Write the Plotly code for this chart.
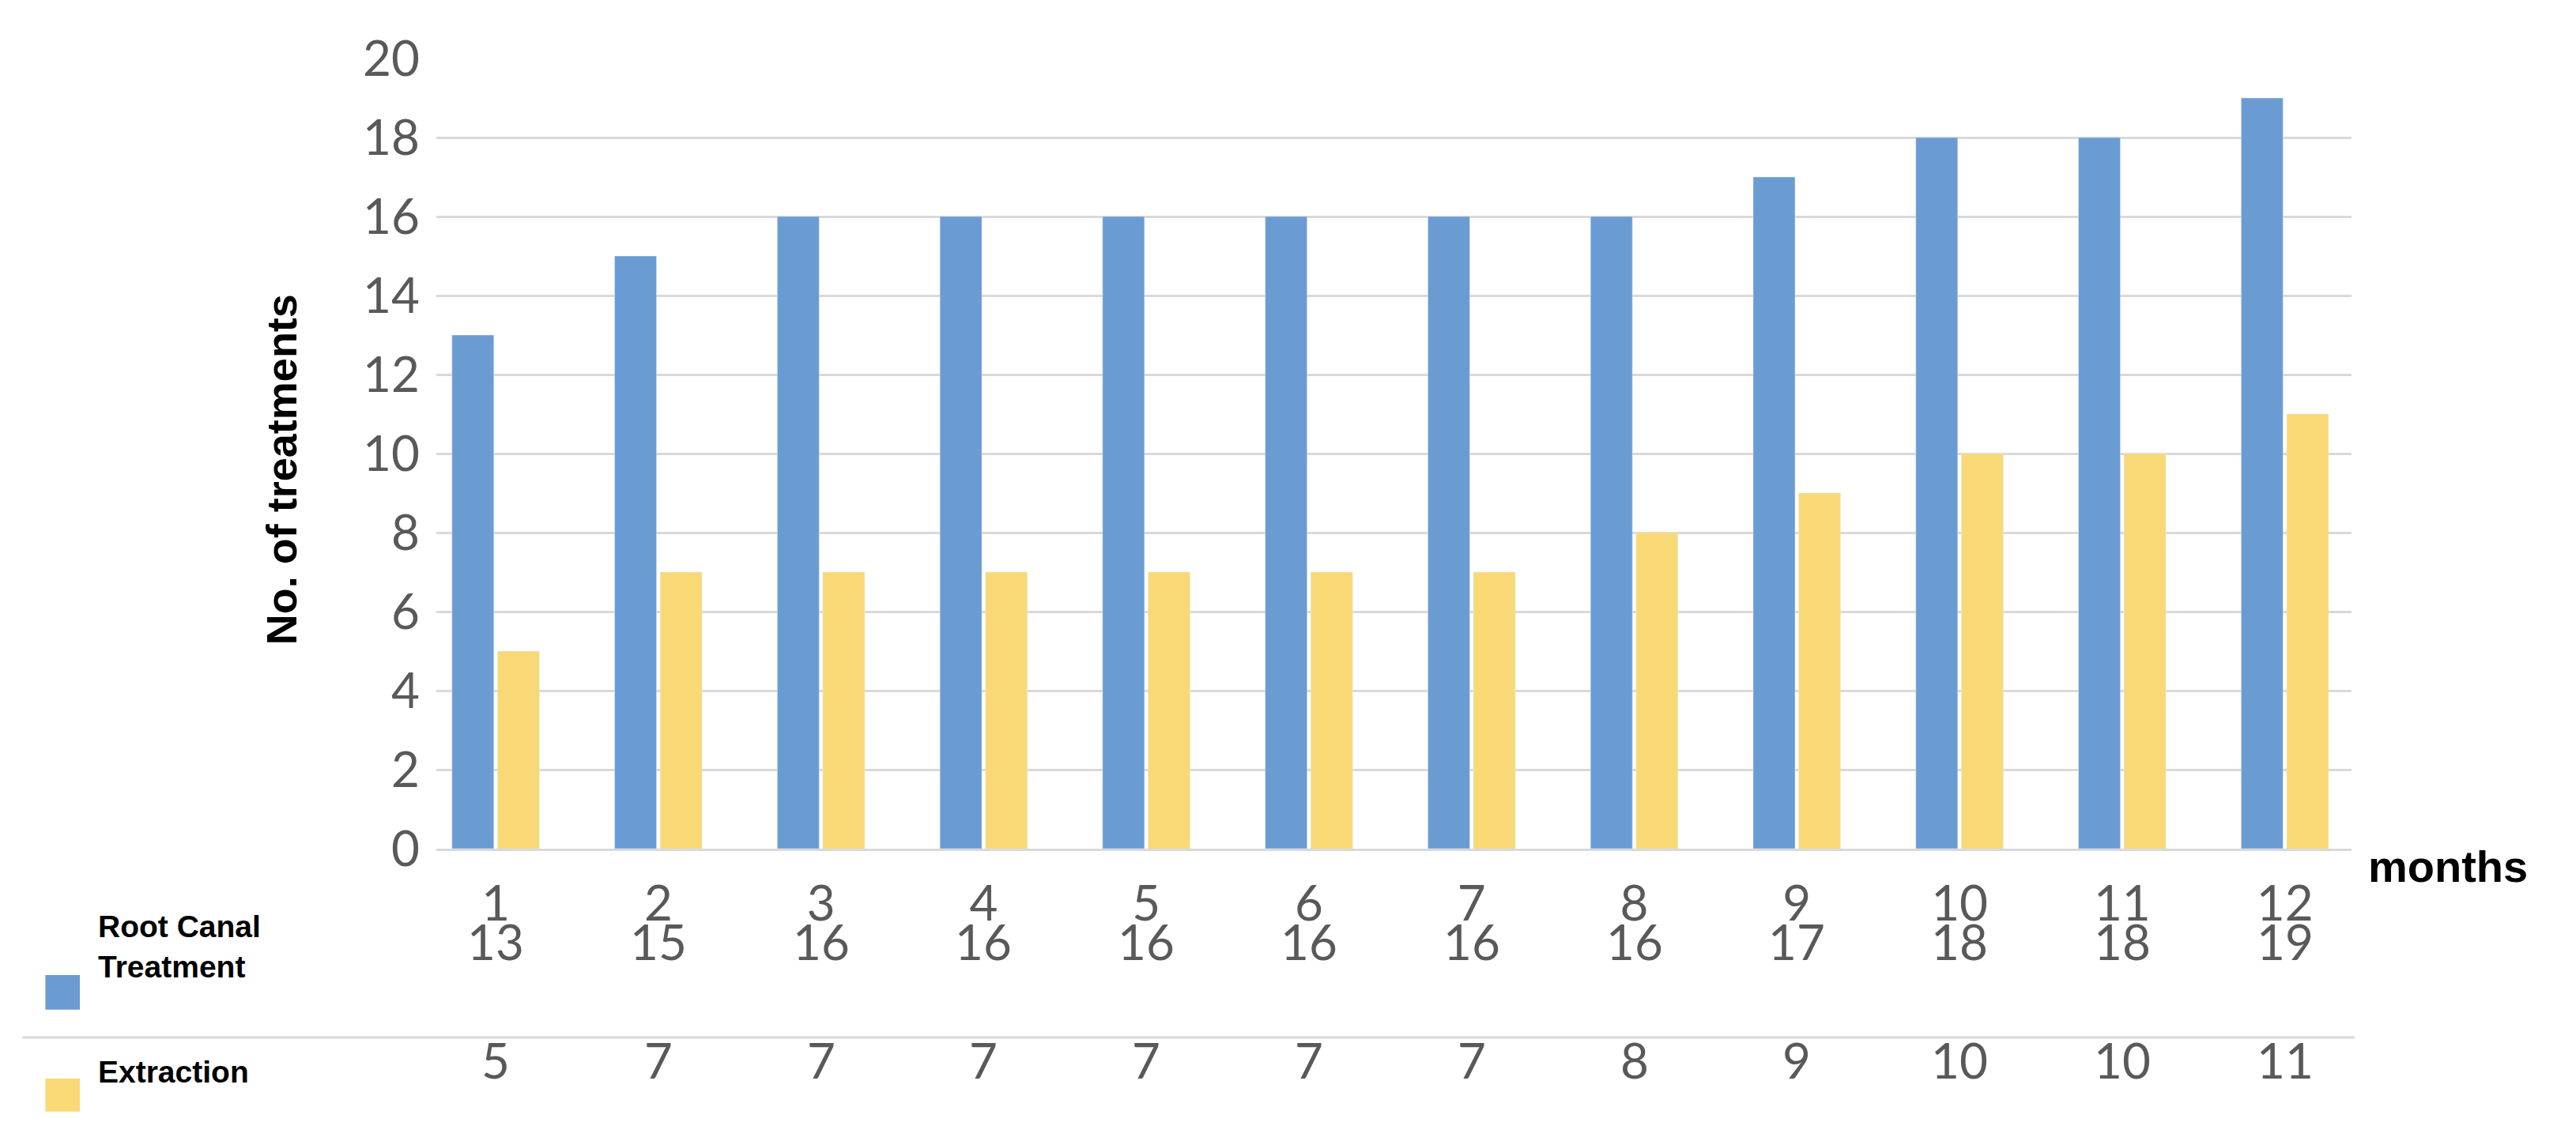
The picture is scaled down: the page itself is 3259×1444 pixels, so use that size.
import plotly.graph_objects as go

months = [1,2,3,4,5,6,7,8,9,10,11,12]
root_canal = [13,15,16,16,16,16,16,16,17,18,18,19]
extraction = [5,7,7,7,7,7,7,8,9,10,10,11]
series_names = ["Root Canal<br>Treatment", "Extraction"]
blue = "#6A9BD3"; yellow = "#F9D976"
W, H = 3259, 1444
S = 2.078
L, R, T, B = 262*S, 1428*S, 32*S, 513*S
def px(x): return (x*S - L) / (R - L)
def py(y): return (B - y*S) / (B - T)

fig = go.Figure()
fig.add_bar(x=months, y=root_canal, marker_color=blue, name="Root Canal Treatment")
fig.add_bar(x=months, y=extraction, marker_color=yellow, name="Extraction")

ann = []
font_num = dict(family="Lato", size=62, color="#595959")
for m, a, b in zip(months, root_canal, extraction):
    ann.append(dict(x=m, y=py(588), xref="x", yref="paper", text=str(a), showarrow=False, font=font_num))
    ann.append(dict(x=m, y=py(660), xref="x", yref="paper", text=str(b), showarrow=False, font=font_num))
ann.append(dict(x=px(1437), y=py(540), xref="paper", yref="paper", text="<b>months</b>", showarrow=False,
                xanchor="left", font=dict(family="Liberation Sans", size=56, color="black")))
ann.append(dict(x=px(152), y=py(282), xref="paper", yref="paper", text="<b>No. of treatments</b>", showarrow=False,
                textangle=-90, font=dict(family="Liberation Sans", size=54, color="black")))
ann.append(dict(x=px(55), y=py(596), xref="paper", yref="paper", text="<b>" + series_names[0] + "</b>", showarrow=False,
                xanchor="left", align="left", font=dict(family="Liberation Sans", size=39, color="black")))
ann.append(dict(x=px(55), y=py(660), xref="paper", yref="paper", text="<b>" + series_names[1] + "</b>", showarrow=False,
                xanchor="left", align="left", font=dict(family="Liberation Sans", size=39, color="black")))

shapes = [
    dict(type="rect", xref="paper", yref="paper", x0=px(24), x1=px(45), y0=py(590), y1=py(611), fillcolor=blue, line_width=0),
    dict(type="rect", xref="paper", yref="paper", x0=px(24), x1=px(45), y0=py(653), y1=py(673), fillcolor=yellow, line_width=0),
    dict(type="line", xref="paper", yref="paper", x0=px(10), x1=px(1430), y0=py(628), y1=py(628), line=dict(color="#d9d9d9", width=3)),
]

fig.update_layout(
    width=W, height=H, margin=dict(l=L, r=W - R, t=T, b=H - B),
    plot_bgcolor="white", paper_bgcolor="white", showlegend=False,
    bargap=0.44, bargroupgap=0.08, barmode="group",
    font=dict(family="Lato", color="#595959"),
    annotations=ann, shapes=shapes,
)
fig.update_xaxes(tickmode="array", tickvals=months, ticktext=[str(m) for m in months],
                 tickfont=dict(size=62, color="#595959"), ticks="", showline=True, linecolor="#d9d9d9", linewidth=3,
                 range=[0.635, 12.41], ticklabelstandoff=14)
fig.update_yaxes(range=[0, 20], dtick=2, showgrid=True, gridcolor="#d9d9d9", gridwidth=3,
                 tickfont=dict(size=62, color="#595959"), ticklabelstandoff=20, zeroline=False)
fig.write_html("out.html")
